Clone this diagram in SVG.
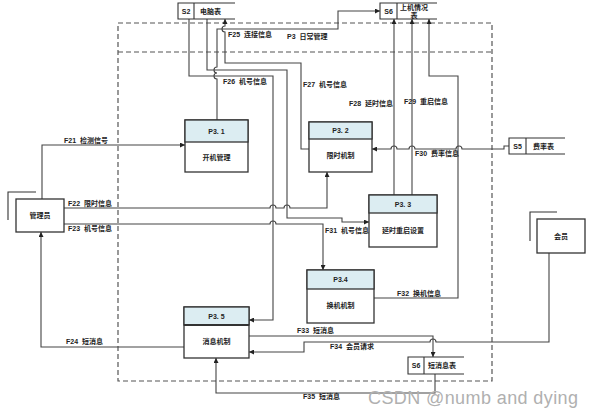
<svg xmlns="http://www.w3.org/2000/svg" width="594" height="417" viewBox="0 0 594 417">
<defs>
<marker id="ah" markerWidth="5" markerHeight="5" refX="5" refY="2.5" orient="auto" markerUnits="userSpaceOnUse">
<path d="M0,0 L5,2.5 L0,5 z" fill="#222"/>
</marker>
<style>
text{font-family:"Liberation Sans","Noto Sans CJK SC",sans-serif;fill:#222;font-weight:bold;}
.lbl{font-size:7px;}
.nt{font-size:7px;text-anchor:middle;}
.box{fill:#fff;stroke:#333;stroke-width:1.3;}
.hdr{fill:#dcedf2;stroke:#333;stroke-width:1.3;}
.st{fill:none;stroke:#333;stroke-width:1.1;}
.ca{fill:none;stroke:#444;stroke-width:1.1;marker-end:url(#ah);}
.dash{fill:none;stroke:#555;stroke-width:1.2;stroke-dasharray:5,3;}
</style>
</defs>
<rect width="594" height="417" fill="#fff"/>

<g id="boundary">
<rect class="dash" x="118" y="23" width="374" height="358"/>
<line class="dash" x1="118" y1="52" x2="492" y2="52"/>
<text class="lbl" x="287" y="39">P3<tspan dx="4">日常管理</tspan></text>
</g>

<g id="connectors">
<path class="ca" d="M42,199 V145 H185"/>
<path class="ca" d="M64,208 H270 a3,3 0 0 1 6,0 H284 a3,3 0 0 1 6,0 H327 V172"/>
<path class="ca" d="M64,224 H270 a3,3 0 0 1 6,0 H323 V270"/>
<path class="ca" d="M184,347 H41 V232"/>
<path class="ca" d="M309,149 H301 V63 H225 V32 a3,3 0 0 1 0,-6 V19"/>
<path class="ca" d="M217,120 V79 a3,3 0 0 1 0,-6 a3,3 0 0 1 0,-6 V29 H338 V11 H380"/>
<path class="ca" d="M189,19 V76 H273 V320 H249"/>
<path class="ca" d="M207,19 V70 H287 V218 H342 V222 H369"/>
<path class="ca" d="M394,195 V19"/>
<path class="ca" d="M412,195 V19"/>
<path class="ca" d="M374,298 H458 V76 H429 V19"/>
<path class="ca" d="M509,146 H504 V149 H462 a3,3 0 0 0 -6,0 H415 a3,3 0 0 0 -6,0 H397 a3,3 0 0 0 -6,0 H372"/>
<path class="ca" d="M249,336 H433 V357"/>
<path class="ca" d="M549,253 V342 H436 a3,3 0 0 0 -6,0 H304 V352 H249"/>
<path class="ca" d="M435,374 V393 H216 V358"/>
</g>

<g id="labels">
<text class="lbl" x="64" y="143">F21<tspan dx="4">检测信号</tspan></text>
<text class="lbl" x="68" y="206">F22<tspan dx="4">限时信息</tspan></text>
<text class="lbl" x="68" y="231">F23<tspan dx="4">机号信息</tspan></text>
<text class="lbl" x="66" y="344">F24<tspan dx="4">短消息</tspan></text>
<text class="lbl" x="228" y="37">F25<tspan dx="4">连接信息</tspan></text>
<text class="lbl" x="223" y="84">F26<tspan dx="4">机号信息</tspan></text>
<text class="lbl" x="303" y="87">F27<tspan dx="4">机号信息</tspan></text>
<text class="lbl" x="349" y="106">F28<tspan dx="4">延时信息</tspan></text>
<text class="lbl" x="404" y="104">F29<tspan dx="4">重启信息</tspan></text>
<text class="lbl" x="415" y="156">F30<tspan dx="4">费率信息</tspan></text>
<text class="lbl" x="325" y="233">F31<tspan dx="4">机号信息</tspan></text>
<text class="lbl" x="397" y="296">F32<tspan dx="4">换机信息</tspan></text>
<text class="lbl" x="297" y="333">F33<tspan dx="4">短消息</tspan></text>
<text class="lbl" x="330" y="349">F34<tspan dx="4">会员请求</tspan></text>
<text class="lbl" x="303" y="399">F35<tspan dx="4">短消息</tspan></text>
</g>

<g id="p31">
<rect class="box" x="185" y="120" width="63" height="52"/>
<rect class="hdr" x="185" y="120" width="63" height="22"/>
<text class="nt" x="216.5" y="134">P3. 1</text>
<text class="nt" x="216.5" y="160">开机管理</text>
</g>
<g id="p32">
<rect class="box" x="309" y="122" width="63" height="50"/>
<rect class="hdr" x="309" y="122" width="63" height="17"/>
<text class="nt" x="340.5" y="133">P3. 2</text>
<text class="nt" x="340.5" y="158">限时机制</text>
</g>
<g id="p33">
<rect class="box" x="369" y="195" width="68" height="52"/>
<rect class="hdr" x="369" y="195" width="68" height="18"/>
<text class="nt" x="403" y="207">P3. 3</text>
<text class="nt" x="403" y="233">延时重启设置</text>
</g>
<g id="p34">
<rect class="box" x="307" y="270" width="67" height="53"/>
<rect class="hdr" x="307" y="270" width="67" height="19"/>
<text class="nt" x="340.5" y="282">P3.4</text>
<text class="nt" x="340.5" y="308">换机机制</text>
</g>
<g id="p35">
<rect class="box" x="184" y="307" width="65" height="51"/>
<rect class="hdr" x="184" y="307" width="65" height="18"/>
<line x1="184" y1="325" x2="249" y2="325" stroke="#333" stroke-width="2"/>
<text class="nt" x="216.5" y="319">P3. 5</text>
<text class="nt" x="216.5" y="344">消息机制</text>
</g>

<g id="admin">
<path class="st" d="M8,220 V192 H36"/>
<rect class="box" x="16" y="199" width="48" height="33"/>
<text class="nt" x="40" y="218">管理员</text>
</g>
<g id="member">
<path class="st" d="M530,241 V212 H557"/>
<rect class="box" x="537" y="219" width="48" height="34"/>
<text class="nt" x="561" y="239">会员</text>
</g>

<g id="s2">
<path class="st" d="M235,3 H178 V19 H235 M194,3 V19"/>
<text class="nt" x="186" y="13.5">S2</text>
<text class="lbl" x="200" y="13.5">电脑表</text>
</g>
<g id="s6top">
<path class="st" d="M437,3 H380 V19 H437 M397,3 V19"/>
<text class="nt" x="388.5" y="13.5">S6</text>
<text class="nt" x="414" y="10" font-weight="normal">上机情况</text>
<text class="nt" x="414" y="18" font-weight="normal">表</text>
</g>
<g id="s5">
<path class="st" d="M565,138 H509 V154 H565 M526,138 V154"/>
<text class="nt" x="517.5" y="148.5">S5</text>
<text class="lbl" x="533" y="148.5">费率表</text>
</g>
<g id="s6bottom">
<path class="st" d="M464,357 H408 V374 H464 M424,357 V374"/>
<text class="nt" x="416" y="368">S6</text>
<text class="lbl" x="428" y="368">短消息表</text>
</g>

<text x="368" y="404" font-size="18" textLength="210" style="fill:#b0b0b0;font-weight:normal">CSDN @numb and dying</text>
</svg>
